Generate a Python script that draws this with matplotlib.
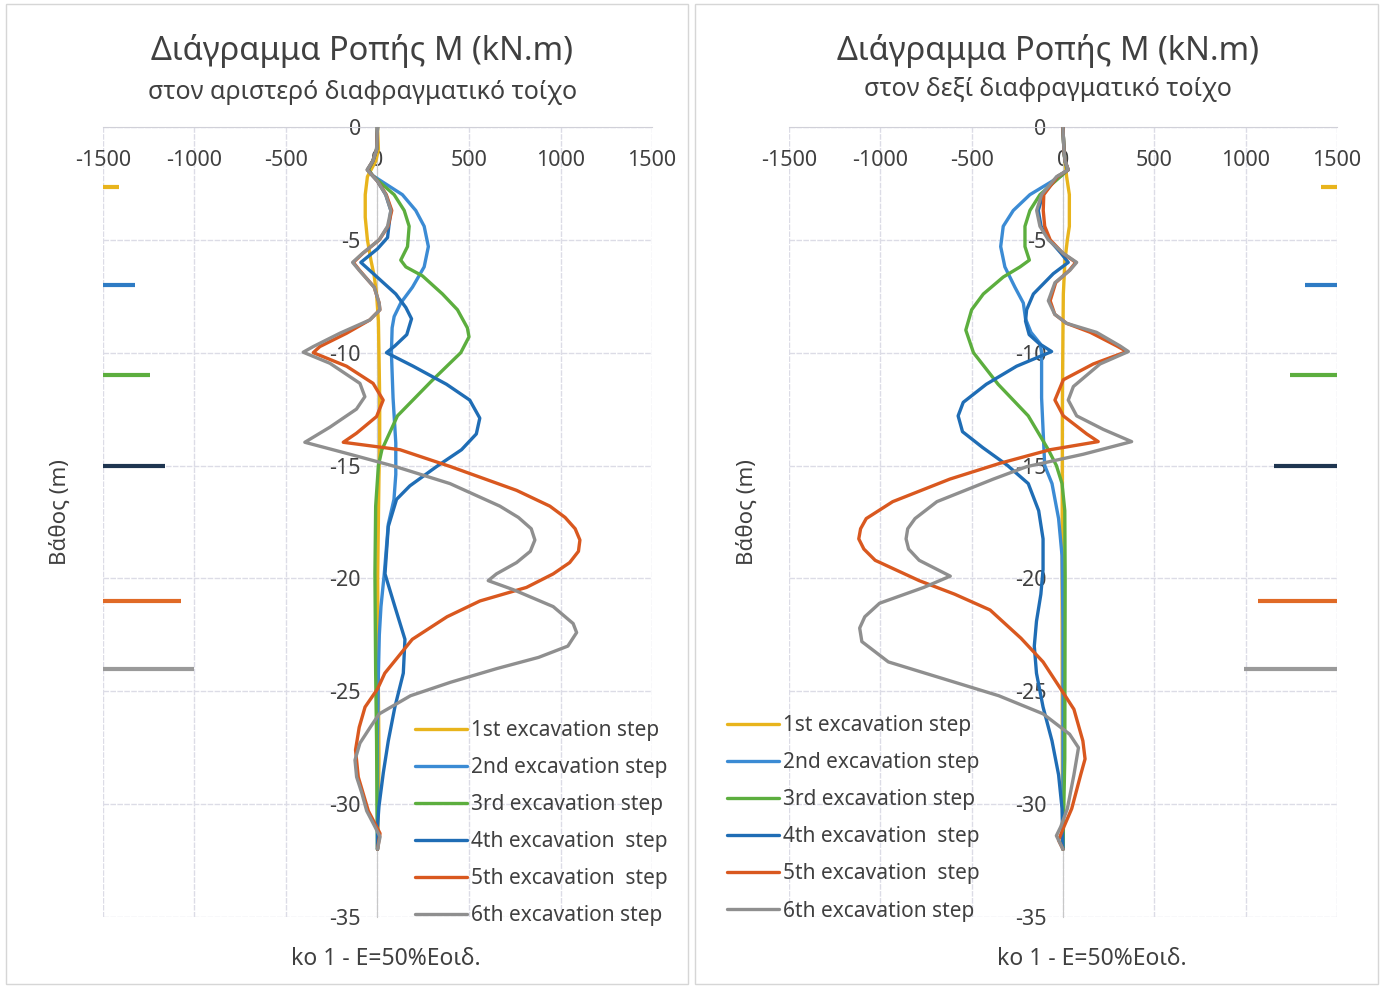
import matplotlib.pyplot as plt
from matplotlib.patches import Rectangle

plt.rcParams['font.family'] = ['Noto Sans', 'DejaVu Sans']

# ---- data: depth (m, negative downwards) and bending moment (kN.m) ----
step_names = ["1st excavation step", "2nd excavation step", "3rd excavation step",
              "4th excavation  step", "5th excavation  step", "6th excavation step"]
step_colors = ["#E8B41C", "#3B8BD4", "#5CAE3E", "#1F6DB5", "#D9581F", "#8F8F8F"]
marker_colors = ["#E8B41C", "#2E7BC4", "#5CAE3E", "#1E3550", "#E06A26", "#9A9A9A"]

# excavation levels (short bars at the side)
exc_depth = [-2.65, -7.0, -11.0, -15.0, -21.0, -24.0]
exc_left_end = [-1410, -1325, -1245, -1160, -1075, -1000]
exc_right_end = [1410, 1325, 1245, 1155, 1070, 990]

# left wall
L1_d = [0, -1, -1.5, -2.2, -3, -4, -5, -5.9, -6.6, -7.4, -8.6, -10, -12, -14, -15.5, -18, -20, -23, -26, -28, -30, -32]
L1_m = [0, 5, -9, -55, -67, -67, -55, -36, -18, -5, 5, 8, 12, 12, 8, 4, 1, 3, 6, 8, 5, 0]

L2_d = [0, -1, -1.5, -1.9, -2.15, -2.5, -3, -3.7, -4.4, -5.3, -6.2, -7.1, -7.8, -8.4, -8.9, -10, -12, -14, -15.4,
        -16.5, -17.6, -19.8, -21.25, -22.5, -24.2, -27, -30, -32]
L2_m = [0, -5, -25, -50, -27, 40, 136, 209, 255, 278, 255, 191, 127, 91, 80, 76, 85, 100, 100,
        90, 59, 37, 19, 10, 5, 0, 0, 0]

L3_d = [0, -1, -1.5, -1.9, -2.15, -2.5, -3, -3.7, -4.4, -5.3, -5.9, -6.2, -6.6, -7.4, -8.1, -8.9, -9.3, -10,
        -11.3, -12.8, -14.3, -15, -16.8, -19.8, -24.2, -27.2, -30, -32]
L3_m = [0, -5, -25, -50, -27, 20, 91, 146, 173, 164, 127, 155, 246, 355, 437, 491, 500, 455,
        290, 109, 24, 5, -10, -14, -10, -5, -3, 0]

L4_d = [0, -1, -1.5, -1.9, -2.4, -3, -3.7, -4.4, -4.9, -5.4, -6.0, -6.6, -7.4, -8, -8.5, -9.2, -9.7, -10,
        -10.6, -11.4, -12.1, -12.9, -13.6, -14.3, -15.05, -15.9, -16.5, -17.7, -19.8, -21.25, -22.7, -24.2,
        -25.7, -27.2, -28.6, -30.1, -31, -32]
L4_m = [0, -5, -25, -55, 0, 45, 73, 62, 55, 0, -91, -9, 100, 155, 186, 160, 95, 49,
        195, 377, 504, 559, 540, 459, 322, 177, 104, 59, 41, 95, 150, 141,
        95, 59, 32, 8, 0, 0]

L5_d = [0, -1, -1.5, -1.9, -2.4, -3, -3.7, -4.4, -5, -5.6, -6.0, -6.35, -7.1, -7.8, -8.1, -8.55, -9.14, -9.73,
        -10.0, -10.6, -11.36, -12.1, -12.83, -13.57, -13.97, -14.3, -15.05, -16.1, -16.8, -17.3, -17.8, -18.3,
        -18.8, -19.3, -19.8, -20.4, -21.0, -21.7, -22.7, -23.5, -24.2, -24.9, -25.7, -26.6, -27.6, -28.8,
        -30.3, -31.3, -32]
L5_m = [0, -5, -25, -55, 0, 48, 78, 58, 10, -80, -132, -98, -18, 9, 13, -42, -169, -315,
        -351, -169, -24, 31, -5, -115, -187, 123, 400, 760, 942, 1025, 1080, 1106,
        1098, 1050, 960, 814, 560, 380, 190, 110, 40, 0, -68, -100, -120, -105,
        -50, 14, 0]

L6_d = [0, -1, -1.5, -1.9, -2.4, -3, -3.7, -4.4, -5, -5.6, -6.0, -6.35, -7.1, -7.8, -8.1, -8.55, -9.14, -9.73,
        -9.98, -10.47, -11.36, -11.95, -12.5, -13.3, -13.97, -14.46, -15.05, -15.8, -16.8, -17.3, -17.8, -18.3,
        -18.8, -19.3, -19.8, -20.1, -20.5, -21.25, -22.0, -22.4, -23.0, -23.5, -24.0, -24.6, -25.2, -26.0,
        -26.6, -27.3, -28.05, -28.8, -29.5, -30.3, -31.0, -31.45, -32]
L6_m = [0, -5, -25, -57, 0, 45, 73, 55, 9, -82, -136, -100, -18, 9, 13, -42, -206, -351,
        -406, -260, -96, -69, -115, -260, -397, -169, 100, 396, 669, 770, 840, 860,
        835, 760, 650, 605, 742, 960, 1069, 1088, 1040, 880, 650, 400, 180, 10,
        -40, -96, -123, -114, -86, -59, -14, 14, 0]

# right wall
R1_d = [0, -1, -1.5, -2.2, -3, -4.4, -5, -5.9, -7.4, -9, -12, -20, -30, -32]
R1_m = [0, 5, 11, 20, 35, 35, 24, 11, 2, 0, -3, -5, -3, 0]

R2_d = [0, -1, -1.5, -1.9, -2.15, -3, -3.7, -4.4, -5.3, -6.2, -7.1, -7.8, -8.5, -9.1, -9.6, -10, -12, -15,
        -15.8, -17.35, -19, -22, -32]
R2_m = [0, 5, 11, 25, -7, -181, -272, -327, -341, -318, -263, -217, -205, -175, -125, -117, -117, -100,
        -60, -24, -5, 0, 0]

R3_d = [0, -1, -1.5, -1.9, -2.15, -3, -3.7, -4.4, -5.3, -5.9, -6.2, -6.65, -7.4, -8.1, -9.0, -10, -11.4,
        -12.8, -14.3, -15, -15.8, -17, -20, -28, -30, -32]
R3_m = [0, 5, 11, 25, -7, -126, -181, -208, -208, -184, -235, -327, -436, -500, -532, -490, -355,
        -190, -80, -36, -5, 10, 12, 10, 5, 0]

R4_d = [0, -1, -1.5, -1.9, -2.2, -3, -3.7, -4.4, -5, -5.6, -6.0, -6.5, -7.4, -8.1, -8.6, -9.2, -9.6, -9.95,
        -10.6, -11.4, -12.2, -12.8, -13.5, -14.2, -15.0, -15.8, -17, -18.25, -19.6, -20.7, -21.9, -23.0,
        -24.2, -25.7, -27.2, -28.7, -30.2, -32]
R4_m = [0, 5, 11, 29, -30, -110, -135, -120, -75, -10, 29, -53, -162, -199, -205, -185, -130, -62,
        -254, -420, -546, -574, -550, -440, -303, -190, -133, -109, -109, -121, -145, -157,
        -145, -109, -60, -24, -5, 0]

R5_d = [0, -1, -1.5, -1.9, -2.2, -3, -3.7, -4.4, -5, -5.6, -6.0, -6.35, -6.9, -7.7, -8.3, -8.7, -9.1, -9.7,
        -9.95, -10.5, -11.2, -12.1, -12.8, -13.6, -13.94, -14.3, -14.9, -15.6, -16.6, -17.35, -17.8, -18.25,
        -18.7, -19.2, -20.1, -20.7, -21.4, -22.65, -23.7, -24.9, -25.8, -27.2, -28, -28.7, -30.2, -31.1,
        -31.6, -32]
R5_m = [0, 5, 11, 29, -30, -105, -108, -100, -70, 0, 70, 35, -40, -70, -45, 20, 150, 294,
        349, 166, 2, -44, 2, 130, 193, -71, -345, -619, -932, -1077, -1108, -1118,
        -1090, -1028, -787, -593, -399, -230, -109, -12, 60, 109, 121, 97, 48, 0,
        -24, 0]

R6_d = [0, -1, -1.5, -1.9, -2.2, -3, -3.7, -4.4, -5, -5.6, -6.0, -6.35, -6.9, -7.7, -8.3, -8.7, -9.1, -9.7,
        -9.95, -10.5, -11.5, -12.1, -12.8, -13.4, -13.94, -14.5, -15.05, -15.6, -16.6, -17.35, -17.8, -18.25,
        -18.7, -19.2, -19.9, -20.4, -21.1, -21.7, -22.2, -22.8, -23.7, -24.6, -25.2, -26.0, -26.9, -27.5,
        -28.7, -30.2, -31.0, -31.4, -32]
R6_m = [0, 5, 11, 29, -35, -117, -144, -126, -80, 2, 75, 38, -44, -80, -45, 20, 184, 312,
        358, 203, 57, 29, 75, 221, 376, 111, -199, -381, -690, -810, -850, -859,
        -845, -787, -617, -762, -1004, -1085, -1113, -1101, -956, -593, -351, -109, 36, 85,
        60, 24, -12, -36, 0]

x_ticks = [-1500, -1000, -500, 0, 500, 1000, 1500]
y_ticks = [0, -5, -10, -15, -20, -25, -30, -35]

left_series = [(L1_d, L1_m), (L2_d, L2_m), (L3_d, L3_m), (L4_d, L4_m), (L5_d, L5_m), (L6_d, L6_m)]
right_series = [(R1_d, R1_m), (R2_d, R2_m), (R3_d, R3_m), (R4_d, R4_m), (R5_d, R5_m), (R6_d, R6_m)]

fig = plt.figure(figsize=(13.82, 9.88), dpi=100)

# light frames around the two charts
for x0 in [0.004, 0.503]:
    fig.patches.append(Rectangle((x0, 0.004), 0.494, 0.992, transform=fig.transFigure,
                                 fill=False, edgecolor="#d6d6d6", linewidth=1))

text_col = "#404040"


def draw_panel(ax, series, exc_end, subtitle, title_x, sub_y, leg_anchor, ylab_x, foot_x):
    for (d, m), name, c in zip(series, step_names, step_colors):
        ax.plot(m, d, color=c, linewidth=2.4, label=name, zorder=3,
                solid_joinstyle="round", solid_capstyle="round")
    for dep, end, c in zip(exc_depth, exc_end, marker_colors):
        start = -1500 if end < 0 else 1500
        ax.plot([start, end], [dep, dep], color=c, linewidth=3, solid_capstyle="butt", zorder=3)

    ax.set_xlim(-1500, 1500)
    ax.set_ylim(-35, 0)
    ax.set_xticks(x_ticks)
    ax.set_yticks(y_ticks)
    ax.grid(True, color="#dcdce6", linewidth=1, linestyle=(0, (4, 1)))
    ax.set_axisbelow(True)

    for s in ["right", "bottom"]:
        ax.spines[s].set_visible(False)
    ax.spines["top"].set_color("#d0d0d8")
    ax.spines["left"].set_position(("data", 0))
    ax.spines["left"].set_color("#c8c8c8")

    ax.xaxis.tick_top()
    ax.tick_params(axis="x", length=0, pad=-32, labelsize=15.5, labelcolor=text_col)
    ax.tick_params(axis="y", length=0, pad=12, labelsize=15.5, labelcolor=text_col)
    ax.set_xticklabels([str(v) for v in x_ticks])
    ax.set_yticklabels([str(v) for v in y_ticks])

    fig.text(title_x, 0.948, "Διάγραμμα Ροπής Μ (kN.m)", ha="center", va="center",
             fontsize=23.5, color=text_col)
    fig.text(title_x, sub_y, subtitle, ha="center", va="center", fontsize=18, color=text_col)
    fig.text(ylab_x, 0.482, "Βάθος (m)", rotation=90, ha="center", va="center",
             fontsize=16, color=text_col)
    fig.text(foot_x, 0.029, "ko 1 - E=50%Εοιδ.", ha="center", va="center", fontsize=16.5,
             color=text_col)

    ax.legend(loc="upper left", bbox_to_anchor=leg_anchor, bbox_transform=fig.transFigure,
              frameon=False, fontsize=15, handlelength=2.5, handletextpad=0.2,
              labelspacing=0.77, borderaxespad=0, borderpad=0, labelcolor=text_col)


ax1 = fig.add_axes([0.0745, 0.0719, 0.3973, 0.7996])
ax2 = fig.add_axes([0.5709, 0.0719, 0.3965, 0.7996])

draw_panel(ax1, left_series, exc_left_end, "στον αριστερό διαφραγματικό τοίχο",
           0.262, 0.906, (0.300, 0.271), 0.044, 0.279)
draw_panel(ax2, right_series, exc_right_end, "στον δεξί διαφραγματικό τοίχο",
           0.758, 0.909, (0.526, 0.276), 0.541, 0.790)

fig.savefig("out.png", dpi=100)
